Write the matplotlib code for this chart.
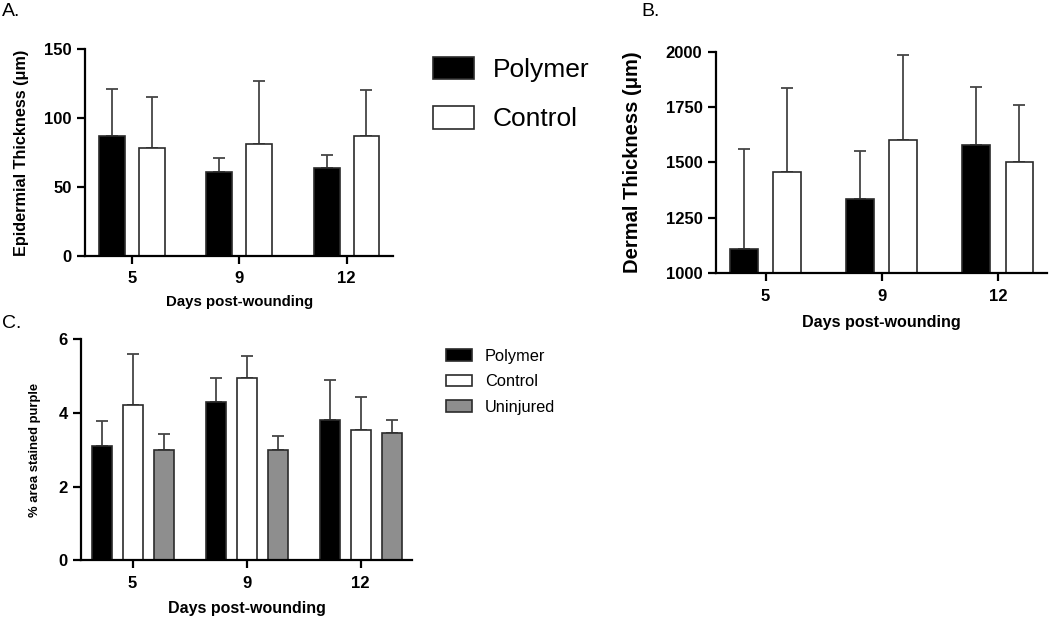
import numpy as np
import matplotlib
matplotlib.use("Agg")
import matplotlib.pyplot as plt
from matplotlib.patches import Patch

plt.rcParams['font.family'] = ['Liberation Sans', 'DejaVu Sans']

days = ['5', '9', '12']

# panel A - epidermal thickness (um), bar mean and top of error bar
epi_polymer = [87, 61, 64]
epi_polymer_top = [121, 71, 73]
epi_control = [78.5, 81, 87]
epi_control_top = [115, 127, 120]

# panel B - dermal thickness (um)
derm_polymer = [1108, 1335, 1578]
derm_polymer_top = [1561, 1552, 1841]
derm_control = [1457, 1603, 1501]
derm_control_top = [1837, 1986, 1761]

# panel C - % area stained purple
pur_polymer = [3.11, 4.31, 3.81]
pur_polymer_top = [3.78, 4.96, 4.90]
pur_control = [4.23, 4.95, 3.55]
pur_control_top = [5.59, 5.56, 4.43]
pur_uninj = [3.00, 3.00, 3.47]
pur_uninj_top = [3.44, 3.37, 3.82]

EDGE = '#2b2b2b'
ERR = '#454545'
fills = ['black', 'white', '#8e8e8e']


def bars(ax, means, tops, width, offsets):
    x = np.arange(len(days))
    for m, t, off, c in zip(means, tops, offsets, fills):
        m = np.array(m)
        t = np.array(t)
        ax.bar(x + off, m, width, color=c, edgecolor=EDGE, linewidth=1.2, zorder=2)
        ax.errorbar(x + off, m, yerr=[np.zeros(len(m)), t - m], fmt='none',
                    ecolor=ERR, elinewidth=1.3, capsize=4, capthick=1.3, zorder=1)
    ax.set_xticks(x)
    ax.set_xticklabels(days)
    for s in ['top', 'right']:
        ax.spines[s].set_visible(False)
    for s in ['left', 'bottom']:
        ax.spines[s].set_linewidth(1.6)
    ax.tick_params(width=1.6, length=6, labelsize=12)
    ax.tick_params(axis='x', pad=5)
    for lab in ax.get_xticklabels() + ax.get_yticklabels():
        lab.set_fontweight('bold')


def place_labels(ax, ylx, xly):
    ax.yaxis.set_label_coords(ylx, 0.5)
    ax.xaxis.set_label_coords(0.5, xly)
    ax.xaxis.label.set_verticalalignment('center')
    ax.yaxis.label.set_verticalalignment('center')


fig = plt.figure(figsize=(10.5, 6.19), dpi=100)

# A
axA = fig.add_axes([0.0810, 0.5864, 0.2936, 0.3344])
bars(axA, [epi_polymer, epi_control], [epi_polymer_top, epi_control_top],
     0.24, [-0.185, 0.185])
axA.set_xlim(-0.435, 2.435)
axA.set_ylim(0, 150)
axA.set_yticks([0, 50, 100, 150])
axA.set_ylabel('Epidermial Thickness (\u03bcm)', fontsize=11.7, fontweight='bold')
axA.set_xlabel('Days post-wounding', fontsize=10.8, fontweight='bold')
place_labels(axA, -0.205, -0.222)

# B
axB = fig.add_axes([0.6816, 0.5585, 0.3152, 0.3580])
bars(axB, [derm_polymer, derm_control], [derm_polymer_top, derm_control_top],
     0.239, [-0.186, 0.186])
axB.set_xlim(-0.43, 2.42)
axB.set_ylim(1000, 2000)
axB.set_yticks([1000, 1250, 1500, 1750, 2000])
axB.set_ylabel('Dermal Thickness (\u03bcm)', fontsize=14.5, fontweight='bold')
axB.set_xlabel('Days post-wounding', fontsize=11.6, fontweight='bold')
place_labels(axB, -0.25, -0.22)

# C
axC = fig.add_axes([0.0771, 0.0948, 0.3155, 0.3570])
bars(axC, [pur_polymer, pur_control, pur_uninj],
     [pur_polymer_top, pur_control_top, pur_uninj_top],
     0.175, [-0.272, 0, 0.272])
axC.set_xlim(-0.453, 2.453)
axC.set_ylim(0, 6)
axC.set_yticks([0, 2, 4, 6])
axC.set_ylabel('% area stained purple', fontsize=9.4, fontweight='bold')
axC.set_xlabel('Days post-wounding', fontsize=11.5, fontweight='bold')
place_labels(axC, -0.139, -0.216)

# legends
hA = [Patch(facecolor=fills[0], edgecolor=EDGE, linewidth=1.2),
      Patch(facecolor=fills[1], edgecolor=EDGE, linewidth=1.2)]
fig.legend(hA, ['Polymer', 'Control'], loc='upper left',
           bbox_to_anchor=(433 / 1050, 1 - 56.5 / 619), frameon=False,
           fontsize=19, handlelength=1.55, handleheight=0.95,
           handletextpad=0.72, labelspacing=0.91, borderpad=0, borderaxespad=0)

hC = [Patch(facecolor=c, edgecolor=EDGE, linewidth=1.2) for c in fills]
fig.legend(hC, ['Polymer', 'Control', 'Uninjured'], loc='upper left',
           bbox_to_anchor=(445.7 / 1050, 1 - 348.5 / 619), frameon=False,
           fontsize=11.8, handlelength=1.59, handleheight=0.73,
           handletextpad=0.81, labelspacing=0.65, borderpad=0, borderaxespad=0)

# panel letters
fig.text(2 / 1050, 1 - 11 / 619, 'A.', fontsize=14, va='center', ha='left')
fig.text(641 / 1050, 1 - 11 / 619, 'B.', fontsize=14, va='center', ha='left')
fig.text(2 / 1050, 1 - 323 / 619, 'C.', fontsize=14, va='center', ha='left')

fig.savefig('out.png', dpi=100)
